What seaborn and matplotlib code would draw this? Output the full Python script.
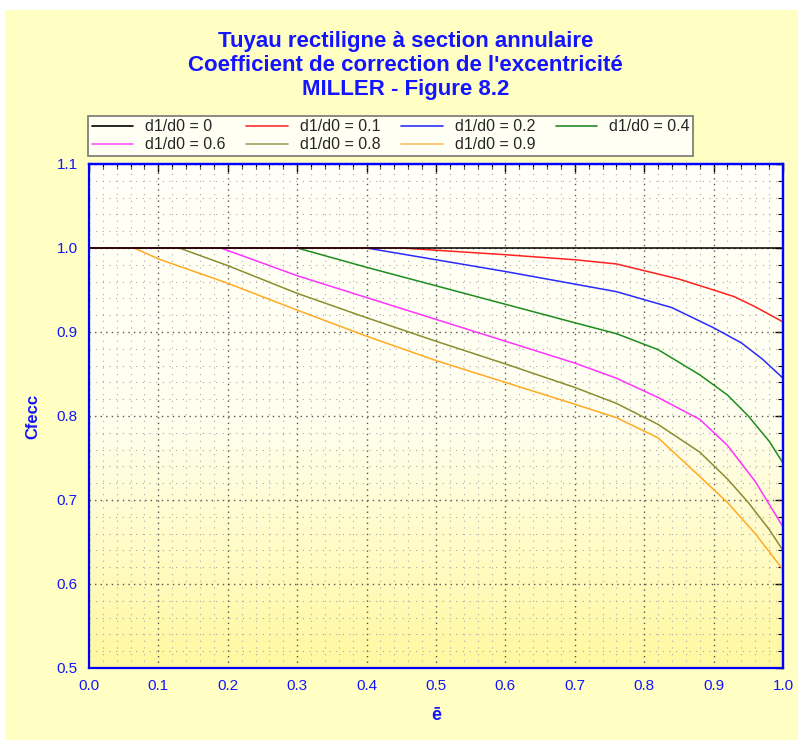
import matplotlib
matplotlib.use("Agg")
import matplotlib.pyplot as plt
import numpy as np
import pandas as pd
import seaborn as sns
from matplotlib.colors import LinearSegmentedColormap
from matplotlib.patches import Rectangle

e_00 = [0.0, 1.0]
c_00 = [1.0, 1.0]
e_01 = [0.0, 0.45, 0.6, 0.7, 0.76, 0.85, 0.9, 0.93, 0.96, 1.0]
c_01 = [1.0, 1.0, 0.992, 0.986, 0.981, 0.963, 0.950, 0.942, 0.930, 0.912]
e_02 = [0.0, 0.4, 0.5, 0.6, 0.7, 0.76, 0.84, 0.9, 0.94, 0.97, 1.0]
c_02 = [1.0, 1.0, 0.986, 0.972, 0.957, 0.948, 0.929, 0.905, 0.887, 0.868, 0.845]
e_04 = [0.0, 0.3, 0.4, 0.5, 0.6, 0.7, 0.76, 0.82, 0.88, 0.92, 0.95, 0.98, 1.0]
c_04 = [1.0, 1.0, 0.977, 0.955, 0.933, 0.911, 0.898, 0.879, 0.849, 0.825, 0.800, 0.770, 0.744]
e_06 = [0.0, 0.19, 0.3, 0.4, 0.5, 0.6, 0.7, 0.76, 0.82, 0.88, 0.92, 0.96, 1.0]
c_06 = [1.0, 1.0, 0.967, 0.941, 0.915, 0.889, 0.863, 0.845, 0.822, 0.796, 0.765, 0.722, 0.668]
e_08 = [0.0, 0.13, 0.2, 0.3, 0.4, 0.5, 0.6, 0.7, 0.76, 0.82, 0.88, 0.92, 0.95, 0.98, 1.0]
c_08 = [1.0, 1.0, 0.979, 0.946, 0.917, 0.889, 0.862, 0.834, 0.815, 0.790, 0.757, 0.725, 0.697, 0.665, 0.640]
e_09 = [0.0, 0.065, 0.1, 0.2, 0.3, 0.4, 0.5, 0.6, 0.7, 0.76, 0.82, 0.88, 0.92, 0.96, 1.0]
c_09 = [1.0, 1.0, 0.987, 0.958, 0.926, 0.895, 0.866, 0.840, 0.814, 0.798, 0.774, 0.728, 0.697, 0.660, 0.617]

labels = ['d1/d0 = 0', 'd1/d0 = 0.1', 'd1/d0 = 0.2', 'd1/d0 = 0.4',
          'd1/d0 = 0.6', 'd1/d0 = 0.8', 'd1/d0 = 0.9']
colors = ['#000000', '#ff2020', '#2a2aff', '#1e8c1e', '#ff33ff', '#8c8c30', '#ffaa22']
legend_colors = ['#000000', '#ff3030', '#3030ff', '#2a8a2a', '#ff55ff', '#a0a060', '#ffc060']

series = [(e_00, c_00), (e_01, c_01), (e_02, c_02), (e_04, c_04),
          (e_06, c_06), (e_08, c_08), (e_09, c_09)]
frames = []
for lab, (e, c) in zip(labels, series):
    frames.append(pd.DataFrame({'e': e, 'Cfecc': c, 'serie': lab}))
df = pd.concat(frames, ignore_index=True)

sns.set_style('white')
plt.rcParams['font.family'] = ['Liberation Sans', 'DejaVu Sans']

blue = '#1414ff'
fig = plt.figure(figsize=(7.98, 7.40), dpi=100, facecolor='white')
fig.patches.append(Rectangle((0.006, 0.0), 0.994, 0.987, transform=fig.transFigure,
                             facecolor='#ffffc4', edgecolor='none', zorder=-10))
ax = fig.add_axes([0.1115, 0.0973, 0.8697, 0.6811])

# gradient background white -> yellow
cmap = LinearSegmentedColormap.from_list('bg', ['#fffff8', '#fffff0', '#fff8a0'])
grad = np.linspace(0, 1, 256).reshape(-1, 1)
ax.imshow(grad, extent=[0, 1, 0.5, 1.1], aspect='auto', cmap=cmap, origin='upper', zorder=0)

palette = dict(zip(labels, colors))
for i, lab in enumerate(labels[::-1]):
    sns.lineplot(data=df[df['serie'] == lab], x='e', y='Cfecc', color=palette[lab],
                 linewidth=1.1, ax=ax, zorder=3 + i, legend=False)

xmaj = np.arange(0, 1.01, 0.1)
ymaj = np.arange(0.5, 1.101, 0.1)
xmin = np.arange(0, 1.001, 0.02)
ymin = np.arange(0.5, 1.1001, 0.02)

ax.set_xlim(0, 1)
ax.set_ylim(0.5, 1.1)
ax.set_xticks(xmaj)
ax.set_yticks(ymaj)
ax.set_xticks(xmin, minor=True)
ax.set_yticks(ymin, minor=True)
ax.set_xticklabels([f'{v:.1f}' for v in xmaj])
ax.set_yticklabels([f'{v:.1f}' for v in ymaj])

ax.grid(True, which='major', color='#555555', linestyle=(0, (1, 3)), linewidth=1.0, zorder=1)
ax.grid(True, which='minor', color='#aaaaaa', linestyle=(0, (1, 5)), linewidth=0.8, zorder=1)
ax.set_axisbelow(False)

ax.tick_params(axis='both', which='major', direction='inout', length=9, width=1,
               color='black', labelcolor=blue, labelsize=11, top=False, right=False)
ax.tick_params(axis='both', which='minor', direction='inout', length=5, width=0.8,
               color='black', top=False, right=False)

# inward ticks on top and right sides
secx = ax.secondary_xaxis('top')
secx.set_xticks(xmaj)
secx.set_xticks(xmin, minor=True)
secx.tick_params(which='major', direction='in', length=6, width=1, color='black', labeltop=False)
secx.tick_params(which='minor', direction='in', length=3.5, width=0.8, color='black')
secy = ax.secondary_yaxis('right')
secy.set_yticks(ymaj)
secy.set_yticks(ymin, minor=True)
secy.tick_params(which='major', direction='in', length=6, width=1, color='black', labelright=False)
secy.tick_params(which='minor', direction='in', length=3.5, width=0.8, color='black')
for a in (ax, secx, secy):
    for s in a.spines.values():
        s.set_color('#0000ff')
        s.set_linewidth(1.6)
        s.set_zorder(20)

ax.set_xlabel('ē', color=blue, fontsize=13, fontweight='bold', labelpad=10)
ax.set_ylabel('Cfecc', color=blue, fontsize=12, fontweight='bold', labelpad=12)

fig.text(0.508, 0.958, 'Tuyau rectiligne à section annulaire\n'
         'Coefficient de correction de l\'excentricité\nMILLER - Figure 8.2',
         ha='center', va='top', color=blue, fontsize=16, fontweight='bold', linespacing=1.2)

# legend laid out row-wise on 4 columns
handles = [plt.Line2D([], [], color=c, linewidth=1.2) for c in legend_colors]
order = [0, 4, 1, 5, 2, 6, 3]
leg = ax.legend([handles[k] for k in order], [labels[k] for k in order], ncol=4,
                loc='lower left', bbox_to_anchor=(-0.001, 1.016, 0.872, 0.08), mode='expand',
                fontsize=11.5, frameon=True, fancybox=False, handlelength=2.6,
                handletextpad=0.75, borderaxespad=0, columnspacing=1.0,
                labelspacing=0.2, borderpad=0.22)
leg.get_frame().set_edgecolor('#555555')
leg.get_frame().set_linewidth(1.2)
leg.get_frame().set_facecolor('white')

plt.savefig('out.png', dpi=100, facecolor=fig.get_facecolor())
